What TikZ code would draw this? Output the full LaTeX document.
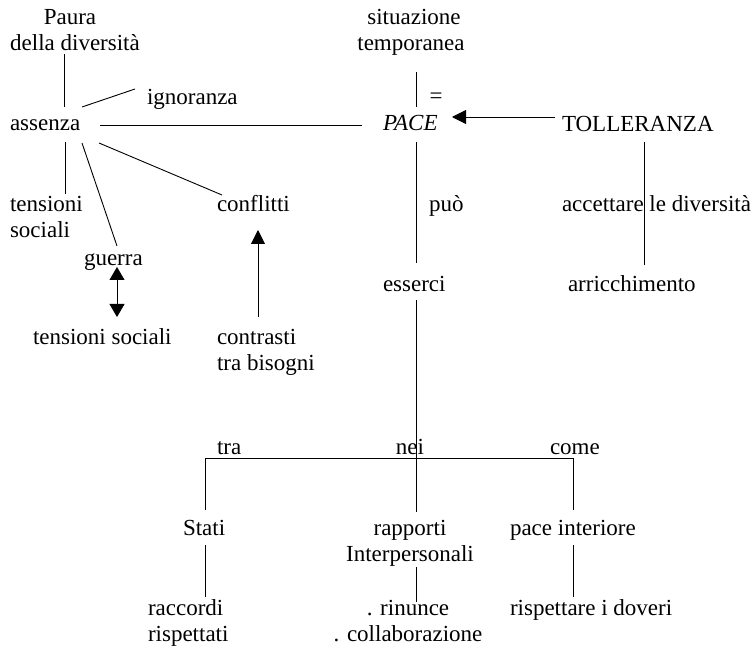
\documentclass[tikz,border=0pt]{standalone}
\usepackage{fontspec}
\setmainfont{Liberation Serif}
\usetikzlibrary{arrows.meta}
\begin{document}
\begin{tikzpicture}[x=1pt,y=-1pt,
  txt/.style={inner sep=0pt,outer sep=0pt,anchor=base west,font=\fontsize{23}{26}\selectfont},
  ctxt/.style={txt,anchor=base},
  conn/.style={line width=0.9pt},
  arr/.style={conn,-{Triangle[length=14pt,width=14pt]}},
  darr/.style={conn,{Triangle[length=13pt,width=15pt]}-{Triangle[length=13pt,width=15pt]}}]
\useasboundingbox (0,0) rectangle (756,647);
% nodes (multi-line nodes are placed by the baseline of their last line)
\node[ctxt,align=center] (paura) at (75,51) {Paura\hspace*{10pt}\\della diversità};
\node[txt] (ignoranza) at (147,105) {ignoranza};
\node[txt] (assenza) at (10,131) {assenza};
\node[ctxt,align=center] (situazione) at (411,51) {\hspace*{6pt}situazione\\temporanea};
\node[ctxt] (uguale) at (436,104) {=};
\node[txt] (pace) at (383,131) {\itshape PACE};
\node[txt] (tolleranza) at (562,132) {TOLLERANZA};
\node[txt,align=left] (tensioni) at (10,238) {tensioni\\sociali};
\node[txt] (conflitti) at (217,212) {conflitti};
\node[txt] (guerra) at (84,266) {guerra};
\node[txt] (tensioni2) at (33,345) {tensioni sociali};
\node[txt,align=left] (contrasti) at (217,371) {contrasti\\tra bisogni};
\node[txt] (puo) at (429,212) {può};
\node[txt] (accettare) at (562,212) {accettare le diversità};
\node[txt] (esserci) at (383,292) {esserci};
\node[txt] (arricchimento) at (568,292) {arricchimento};
\node[txt] (tra) at (217,454) {tra};
\node[ctxt] (nei) at (410,454) {nei};
\node[txt] (come) at (550,454) {come};
\node[txt] (stati) at (183,535) {Stati};
\node[ctxt,align=center] (rapporti) at (410,561) {rapporti\\Interpersonali};
\node[txt] (paceint) at (510,535) {pace interiore};
\node[txt,align=left] (raccordi) at (148,641) {raccordi\\rispettati};
\node[ctxt,align=center] (rinunce) at (408,641) {. rinunce\\. collaborazione};
\node[txt] (doveri) at (510,615) {rispettare i doveri};
% connector end points
\coordinate (a0) at (64,54);
\coordinate (a1) at (64,107);
\coordinate (b0) at (82,107);
\coordinate (b1) at (135,89);
\coordinate (c0) at (100,125);
\coordinate (c1) at (362,125);
\coordinate (d0) at (416,72);
\coordinate (d1) at (416,107);
\coordinate (e0) at (555,117);
\coordinate (e1) at (452,117);
\coordinate (f0) at (644,142);
\coordinate (f1) at (644,265);
\coordinate (g0) at (65,142);
\coordinate (g1) at (65,194);
\coordinate (h0) at (82,143);
\coordinate (h1) at (117,246);
\coordinate (i0) at (99,143);
\coordinate (i1) at (222,195);
\coordinate (j0) at (117,267);
\coordinate (j1) at (117,317);
\coordinate (k0) at (258,317);
\coordinate (k1) at (258,230);
\coordinate (l0) at (416,142);
\coordinate (l1) at (416,263);
\coordinate (m0) at (416,300);
\coordinate (m1) at (416,512);
\coordinate (n0) at (205,510);
\coordinate (n1) at (205,458);
\coordinate (n2) at (573,458);
\coordinate (n3) at (573,510);
\coordinate (o0) at (205,545);
\coordinate (o1) at (205,597);
\coordinate (p0) at (416,567);
\coordinate (p1) at (416,602);
\coordinate (q0) at (573,545);
\coordinate (q1) at (573,597);
% connectors
\draw[conn] (a0) -- (a1);
\draw[conn] (b0) -- (b1);
\draw[conn] (c0) -- (c1);
\draw[conn] (d0) -- (d1);
\draw[arr] (e0) -- (e1);
\draw[conn] (f0) -- (f1);
\draw[conn] (g0) -- (g1);
\draw[conn] (h0) -- (h1);
\draw[conn] (i0) -- (i1);
\draw[darr] (j0) -- (j1);
\draw[arr] (k0) -- (k1);
\draw[conn] (l0) -- (l1);
\draw[conn] (m0) -- (m1);
\draw[conn] (n0) -- (n1) -- (n2) -- (n3);
\draw[conn] (o0) -- (o1);
\draw[conn] (p0) -- (p1);
\draw[conn] (q0) -- (q1);
\end{tikzpicture}
\end{document}
